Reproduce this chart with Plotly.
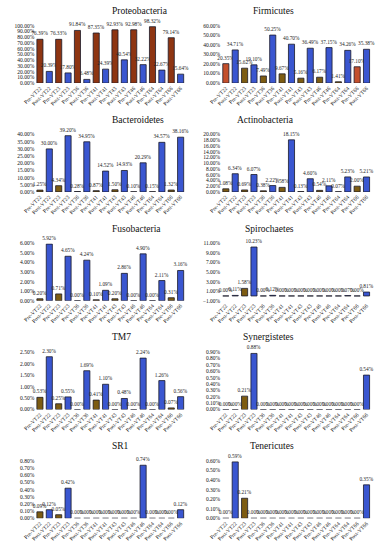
import plotly.graph_objects as go

categories = ["Pre-VT22", "Post-VT22", "Pre-VT23", "Post-VT23", "Pre-VT36", "Post-VT36",
              "Pre-VT41", "Post-VT41", "Pre-VT43", "Post-VT43", "Pre-VT46", "Post-VT46",
              "Pre-VT64", "Post-VT64", "Pre-VT66", "Post-VT66"]

proteobacteria = [76.39, 20.39, 76.33, 17.80, 91.84, 6.48, 87.35, 24.39,
                  92.93, 40.54, 92.98, 32.22, 98.32, 22.67, 79.14, 15.64]
firmicutes = [20.35, 34.71, 15.62, 19.10, 7.49, 50.25, 9.67, 40.70,
              5.16, 36.49, 6.17, 37.15, 1.41, 34.26, 17.10, 35.38]
bacteroidetes = [1.25, 30.00, 4.34, 39.20, 0.28, 34.95, 0.87, 14.52,
                 1.50, 14.93, 0.10, 20.29, 0.15, 34.57, 1.32, 38.16]
actinobacteria = [1.08, 6.34, 0.69, 6.07, 0.38, 2.22, 1.58, 18.15,
                  0.13, 4.60, 0.54, 2.11, 0.07, 5.23, 2.00, 5.21]
fusobacteria = [0.20, 5.92, 0.71, 4.65, 0.00, 4.24, 0.10, 1.09,
                0.20, 2.86, 0.00, 4.90, 0.00, 2.11, 0.31, 3.16]
spirochaetes = [0.00, 0.11, 1.58, 10.23, 0.00, 0.12, 0.00, 0.00,
                0.00, 0.00, 0.00, 0.00, 0.00, 0.07, 0.00, 0.81]
tm7 = [0.53, 2.30, 0.25, 0.55, 0.00, 1.69, 0.41, 1.10,
       0.00, 0.48, 0.00, 2.24, 0.00, 1.26, 0.07, 0.56]
synergistetes = [0.00, 0.00, 0.21, 0.88, 0.00, 0.00, 0.00, 0.00,
                 0.00, 0.00, 0.00, 0.00, 0.00, 0.00, 0.00, 0.54]
sr1 = [0.09, 0.12, 0.05, 0.42, 0.00, 0.00, 0.00, 0.00,
       0.00, 0.00, 0.00, 0.74, 0.00, 0.00, 0.00, 0.12]
tenericutes = [0.00, 0.59, 0.21, 0.00, 0.00, 0.00, 0.00, 0.00,
               0.00, 0.00, 0.00, 0.00, 0.00, 0.00, 0.00, 0.35]

panels = [
    ("Proteobacteria", proteobacteria, [0, 100], 10),
    ("Firmicutes", firmicutes, [0, 60], 10),
    ("Bacteroidetes", bacteroidetes, [0, 40], 5),
    ("Actinobacteria", actinobacteria, [0, 20], 2),
    ("Fusobacteria", fusobacteria, [0, 6], 1),
    ("Spirochaetes", spirochaetes, [-1, 11], 2),
    ("TM7", tm7, [0, 2.5], 0.5),
    ("Synergistetes", synergistetes, [0, 0.9], 0.1),
    ("SR1", sr1, [0, 0.8], 0.1),
    ("Tenericutes", tenericutes, [0, 0.6], 0.1),
]

W, H = 378, 550
FONT = "Liberation Serif"
PRE = "#7d5c12"
POST = "#3a56d0"

fig = go.Figure()
annotations = []
for i, (name, vals, yr, dt) in enumerate(panels):
    row, col = divmod(i, 2)
    ax = "" if i == 0 else str(i + 1)
    x0 = 24 if col == 0 else 216
    x1 = x0 + 155
    ytop = 110 * row + 23
    ybot = 110 * row + 81
    colors = []
    for j in range(len(categories)):
        if j % 2 == 1:
            colors.append(POST)
        elif name == "Proteobacteria":
            colors.append("#8e3512")
        elif name == "Firmicutes" and j in (0, 14):
            colors.append("#c4502c")
        else:
            colors.append(PRE)
    fig.add_trace(go.Bar(
        x=categories, y=vals, xaxis="x" + ax, yaxis="y" + ax,
        marker=dict(color=colors, line=dict(color="#1a1a2a", width=0.8)),
        text=[f"{v:.2f}%" for v in vals], textposition="outside",
        constraintext="none", cliponaxis=False,
        textfont=dict(family=FONT, size=5.3, color="#222222"),
        showlegend=False, hoverinfo="skip",
    ))
    fig.layout["xaxis" + ax] = dict(
        domain=[x0 / W, x1 / W], anchor="y" + ax, tickangle=-45,
        range=[-0.5, len(categories) - 0.5],
        tickfont=dict(family=FONT, size=5.5, color="#111111"),
        showgrid=False, showline=False, ticks="", type="category",
    )
    fig.layout["yaxis" + ax] = dict(
        domain=[1 - ybot / H, 1 - ytop / H], anchor="x" + ax,
        range=yr, dtick=dt, tick0=yr[0], tickformat=".2f", ticksuffix="%",
        tickfont=dict(family=FONT, size=5.5, color="#111111"),
        showgrid=False, showline=False, zeroline=False, ticks="",
    )
    annotations.append(dict(
        text=name, x=(x0 + x1) / 2 / W, y=1 - (110 * row + 8) / H,
        xref="paper", yref="paper", showarrow=False, yanchor="middle",
        font=dict(family=FONT, size=9.5, color="#111111"),
    ))

fig.update_layout(
    width=W, height=H, margin=dict(l=0, r=0, t=0, b=0),
    paper_bgcolor="white", plot_bgcolor="white",
    bargap=0.35, annotations=annotations,
)
fig.write_html("out.html", config={"displayModeBar": False},
               post_script="document.body.style.margin='0px';")
